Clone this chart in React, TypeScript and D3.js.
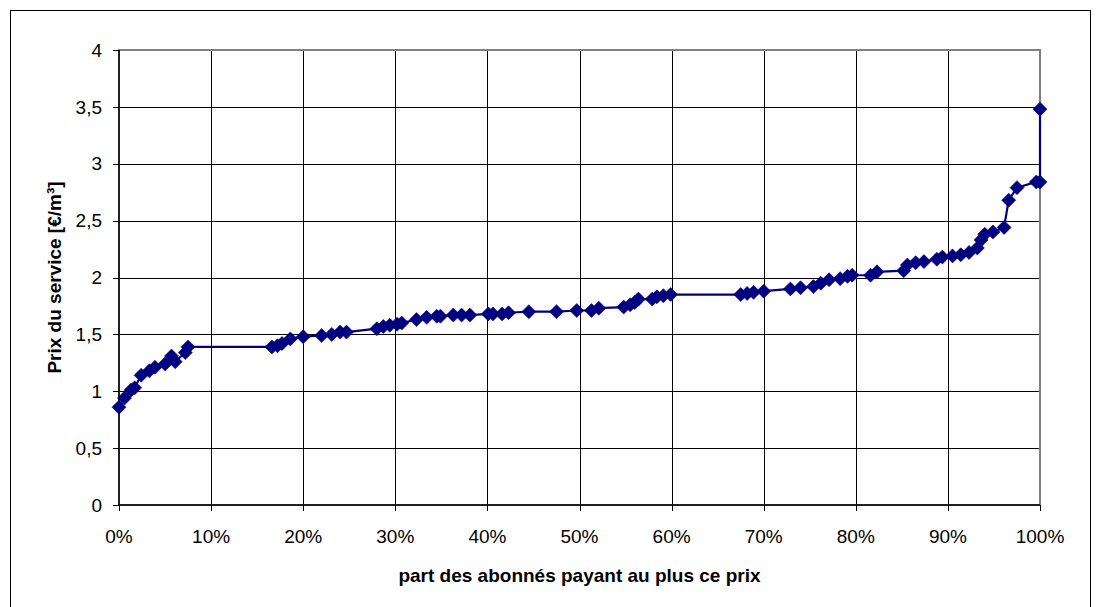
import React from "react";
import * as d3 from "d3";

const sharePct: number[] = [
  0, 0.6, 1.3, 1.7, 2.4, 3.3, 3.9, 5.0, 5.7, 6.1, 7.2, 7.5,
  16.6, 17.2, 17.7, 18.6, 20.0, 22.0, 23.1, 24.0, 24.7,
  28.0, 28.7, 29.4, 30.2, 30.7, 32.3, 33.4, 34.5, 34.9, 36.3, 37.2, 38.1,
  40.1, 40.6, 41.6, 42.3, 44.5, 47.5, 49.7, 51.3, 52.1, 54.8, 55.5, 56.0,
  56.4, 57.9, 58.4, 59.1, 59.9, 67.5, 68.2, 68.9, 70.0, 72.9, 74.0, 75.4,
  76.2, 77.1, 78.3, 79.1, 79.6, 81.6, 82.3, 85.2, 85.6, 86.5, 87.4, 88.8,
  89.4, 90.5, 91.4, 92.3, 93.2, 93.6, 94.0, 94.9, 96.1, 96.6, 97.5, 99.6,
  100, 100,
];
const price: number[] = [
  0.86, 0.94, 1.01, 1.03, 1.14, 1.18, 1.21, 1.24, 1.31, 1.26, 1.34, 1.39,
  1.39, 1.40, 1.42, 1.46, 1.48, 1.49, 1.50, 1.52, 1.52,
  1.55, 1.57, 1.58, 1.59, 1.60, 1.63, 1.65, 1.66, 1.66, 1.67, 1.67, 1.67,
  1.68, 1.68, 1.68, 1.69, 1.70, 1.70, 1.71, 1.71, 1.73, 1.74, 1.76, 1.78,
  1.81, 1.81, 1.83, 1.84, 1.85, 1.85, 1.86, 1.87, 1.88, 1.90, 1.91, 1.92,
  1.95, 1.98, 1.99, 2.01, 2.02, 2.02, 2.05, 2.06, 2.11, 2.13, 2.14, 2.16,
  2.18, 2.19, 2.20, 2.22, 2.26, 2.33, 2.38, 2.40, 2.44, 2.68, 2.79, 2.84,
  2.84, 3.48,
];
const xTicks: number[] = [0, 10, 20, 30, 40, 50, 60, 70, 80, 90, 100];
const yTicks: number[] = [0, 0.5, 1, 1.5, 2, 2.5, 3, 3.5, 4];
const xTitle = "part des abonnés payant au plus ce prix";
const yTitle = "Prix du service [€/m³]";

const W = 1096;
const H = 607;
const L = 119, R = 1040, T = 50, B = 505;
const NAVY = "#000080";
const FONT = "'Liberation Sans', Arial, sans-serif";

export default function App() {
  const x = d3.scaleLinear().domain([0, 100]).range([L, R]);
  const y = d3.scaleLinear().domain([0, 4]).range([B, T]);
  const pts = sharePct.map((p, i) => [p, price[i]] as [number, number]);
  const line = d3.line<[number, number]>().x((d) => x(d[0])).y((d) => y(d[1]));
  const s = 7;
  const diamond = `M0,${-s}L${s},0L0,${s}L${-s},0Z`;
  const fmtY = (v: number) => String(v).replace(".", ",");

  return (
    <svg
      width={W}
      height={H}
      style={{ position: "absolute", left: 0, top: 0, display: "block", background: "#fff" }}
      fontFamily={FONT}
    >
      <rect x={10.5} y={10.5} width={1080} height={600} fill="#fff" stroke="#000" strokeWidth={1} />
      {yTicks.filter((v) => v > 0 && v < 4).map((v) => (
        <line key={"gy" + v} x1={L} x2={R} y1={Math.round(y(v)) + 0.5} y2={Math.round(y(v)) + 0.5} stroke="#000" strokeWidth={1} />
      ))}
      {xTicks.filter((v) => v > 0 && v < 100).map((v) => (
        <line key={"gx" + v} x1={Math.round(x(v)) + 0.5} x2={Math.round(x(v)) + 0.5} y1={T} y2={B} stroke="#000" strokeWidth={1} />
      ))}
      <rect x={L} y={T} width={R - L} height={B - T} fill="none" stroke="#808080" strokeWidth={2} />
      <line x1={L} x2={L} y1={T} y2={B} stroke="#000" strokeWidth={1.5} />
      <line x1={L} x2={R} y1={B} y2={B} stroke="#000" strokeWidth={1.5} />
      {yTicks.map((v) => (
        <g key={"ty" + v}>
          <line x1={L - 6} x2={L} y1={Math.round(y(v)) + 0.5} y2={Math.round(y(v)) + 0.5} stroke="#000" strokeWidth={1} />
          <text x={102} y={y(v)} dy="0.35em" textAnchor="end" fontSize={19} fill="#000">
            {fmtY(v)}
          </text>
        </g>
      ))}
      {xTicks.map((v) => (
        <g key={"tx" + v}>
          <line x1={Math.round(x(v)) + 0.5} x2={Math.round(x(v)) + 0.5} y1={B} y2={B + 6} stroke="#000" strokeWidth={1} />
          <text x={x(v)} y={543} textAnchor="middle" fontSize={19} fill="#000">
            {v + "%"}
          </text>
        </g>
      ))}
      <path d={line(pts) || ""} fill="none" stroke={NAVY} strokeWidth={2.2} />
      {pts.map((d, i) => (
        <path key={"m" + i} d={diamond} transform={`translate(${x(d[0])},${y(d[1])})`} fill={NAVY} stroke={NAVY} strokeWidth={0.6} />
      ))}
      <text x={(L + R) / 2} y={582} textAnchor="middle" fontSize={19} fontWeight="bold" fill="#000">
        {xTitle}
      </text>
      <text
        transform={`translate(61,${(T + B) / 2}) rotate(-90)`}
        textAnchor="middle"
        fontSize={19}
        fontWeight="bold"
        fill="#000"
      >
        {yTitle}
      </text>
    </svg>
  );
}
